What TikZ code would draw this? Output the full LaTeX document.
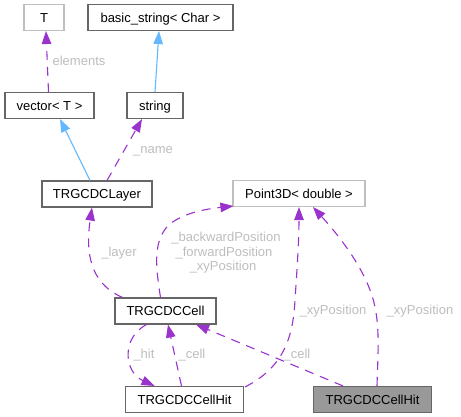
\documentclass[tikz,border=0pt]{standalone}
\usepackage{fontspec}
\setmainfont{Liberation Sans}
\usetikzlibrary{arrows.meta,calc}
\definecolor{edgepurple}{HTML}{9A32CD}
\definecolor{edgeblue}{HTML}{63B8FF}
\definecolor{lblgray}{HTML}{BDBDBD}
\definecolor{boxgray}{HTML}{666666}
\definecolor{boxlight}{HTML}{BFBFBF}
\definecolor{boxfill}{HTML}{999999}
\tikzset{
  cls/.style={draw=boxgray, line width=1.1pt, fill=white, inner sep=0pt,
    minimum height=26pt, text height=9.3pt, text depth=0pt,
    font=\fontsize{13}{15}\selectfont},
  tmpl/.style={cls, draw=boxlight},
  focus/.style={cls, fill=boxfill},
  usage/.style={draw=edgepurple, line width=1.1pt, dash pattern=on 9pt off 7pt,
    -{Triangle[length=13pt,width=9.5pt,fill=edgepurple]}},
  inherit/.style={draw=edgeblue, line width=1.1pt,
    -{Triangle[length=13pt,width=9.5pt,fill=edgeblue]}},
  lbl/.style={text=lblgray, inner sep=0pt, text height=9.3pt, text depth=0pt,
    font=\fontsize{13}{15}\selectfont}
}
\begin{document}
\begin{tikzpicture}[x=1pt,y=-1pt]
\useasboundingbox (0,0) rectangle (461,417);
% nodes
\node[tmpl, minimum width=40pt] (T) at (44,17.5) {T};
\node[cls, minimum width=145pt] (bs) at (160.5,17.5) {basic\_string< Char >};
\node[cls, minimum width=89pt] (vec) at (49.5,105.5) {vector< T >};
\node[cls, minimum width=56pt] (str) at (155,105.5) {string};
\node[cls, minimum width=110pt] (layer) at (97,194) {TRGCDCLayer};
\node[tmpl, minimum width=132pt] (p3) at (299,193.5) {Point3D< double >};
\node[cls, minimum width=101pt] (cell) at (165.5,311) {TRGCDCCell};
\node[cls, minimum width=118pt] (hit) at (184.5,399.5) {TRGCDCCellHit};
\node[focus, minimum width=118pt] (ghit) at (372.5,399.5) {TRGCDCCellHit};
% edges
\draw[usage] ([xshift=-1pt]vec.north) -- ([xshift=2pt]T.south);
\node[lbl] (lelem) at (79,61) {elements};
\draw[inherit] (str.north) -- ([xshift=-1.5pt]bs.south);
\draw[inherit] ([xshift=-7pt]layer.north) -- ([xshift=10.5pt]vec.south);
\draw[usage] ([xshift=10pt]layer.north) -- ([xshift=-13pt]str.south);
\node[lbl] (lname) at (153,149) {\_name};
\draw[usage] ([xshift=-43pt]cell.north) .. controls (96,286) and (84,262) .. ([xshift=-5pt]layer.south);
\node[lbl] (llayer) at (119,252) {\_layer};
\draw[usage] ([xshift=-5pt]cell.north) .. controls (156,268) and (153,245) .. (166,228)
  .. controls (178,214) and (205,209) .. ($(p3.south west)+(1,-1)$);
\node[lbl] (lbp) at (226,237) {\_backwardPosition};
\node[lbl] (lfp) at (224,252) {\_forwardPosition};
\node[lbl] (lxy1) at (223,266) {\_xyPosition};
\draw[usage] ([xshift=-3pt]hit.north) -- ([xshift=2.5pt]cell.south);
\node[lbl] (lcell1) at (192,354) {\_cell};
\draw[usage] ([xshift=-19pt]cell.south) .. controls (121,338) and (124,372) .. ([xshift=-30pt]hit.north);
\node[lbl] (lhit) at (144,354) {\_hit};
\draw[usage] ($(hit.north east)+(1,1)$) .. controls (282,368) and (293,340) .. (295,300)
  .. controls (297,270) and (299,240) .. (p3.south);
\node[lbl] (lxy2) at (333,310) {\_xyPosition};
\draw[usage] ([xshift=-29.5pt]ghit.north) -- ([xshift=30.5pt]cell.south);
\node[lbl] (lcell2) at (297,354) {\_cell};
\draw[usage] ([xshift=4.5pt]ghit.north) .. controls (378,350) and (381,318) .. (370,290)
  .. controls (358,258) and (332,228) .. ([xshift=14pt]p3.south);
\node[lbl] (lxy3) at (420,310) {\_xyPosition};
\end{tikzpicture}
\end{document}
